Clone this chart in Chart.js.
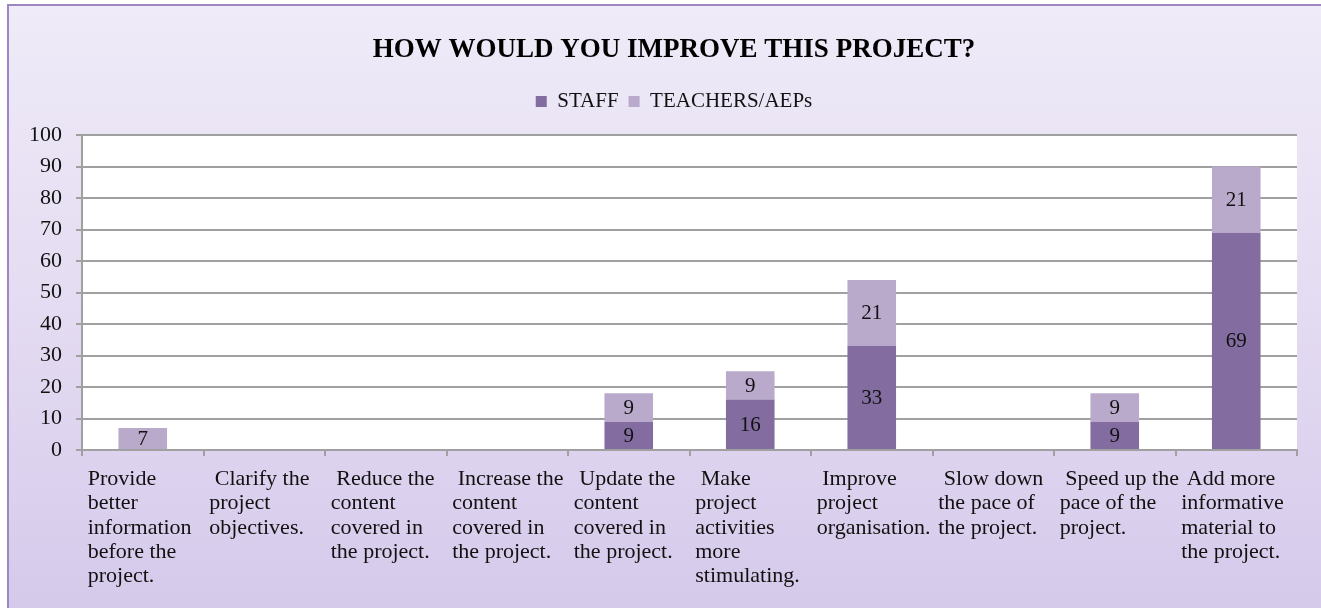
<!DOCTYPE html>
<html>
<head>
<meta charset="utf-8">
<script src="https://cdn.jsdelivr.net/npm/chart.js@4.4.1/dist/chart.umd.min.js"></script>
<style>
  html, body { margin: 0; padding: 0; width: 1321px; height: 608px; overflow: hidden; background: #ffffff; }
  #frame {
    position: absolute; left: 7px; top: 4px;
    width: 1330px; height: 640px;
    border-left: 2px solid #9c86c4; border-top: 2px solid #9c86c4;
    background: linear-gradient(to bottom, #efebf8 0px, #e4dcf2 300px, #d4c7ea 640px);
  }
  canvas { display: block; }
</style>
</head>
<body>
<div id="frame"><canvas id="c" width="1330" height="604" style="width:1330px;height:604px"></canvas></div>
<script>
const chartTitle = 'HOW WOULD YOU IMPROVE THIS PROJECT?';
const seriesNames = ['STAFF', 'TEACHERS/AEPs'];
const categories = [
  ['Provide', 'better', 'information', 'before the', 'project.'],
  [' Clarify the', 'project', 'objectives.'],
  [' Reduce the', 'content', 'covered in', 'the project.'],
  [' Increase the', 'content', 'covered in', 'the project.'],
  [' Update the', 'content', 'covered in', 'the project.'],
  [' Make', 'project', 'activities', 'more', 'stimulating.'],
  [' Improve', 'project', 'organisation.'],
  [' Slow down', 'the pace of', 'the project.'],
  [' Speed up the', 'pace of the', 'project.'],
  [' Add more', 'informative', 'material to', 'the project.']
];
const staffValues    = [0, 0, 0, 0, 9, 16, 33, 0, 9, 69];
const teacherValues  = [7, 0, 0, 0, 9, 9, 21, 0, 9, 21];
const yTicks = { min: 0, max: 100, step: 10 };

const FONT = "'Liberation Serif', 'Times New Roman', serif";
const GRID = '#a0a0a0';

const plotBg = {
  id: 'plotBg',
  beforeDraw(chart) {
    const a = chart.chartArea, ctx = chart.ctx;
    ctx.save();
    ctx.fillStyle = '#ffffff';
    ctx.fillRect(a.left, a.top, a.right - a.left, a.bottom - a.top);
    ctx.restore();
  }
};

const barLabels = {
  id: 'barLabels',
  afterDatasetsDraw(chart) {
    const ctx = chart.ctx;
    ctx.save();
    ctx.font = '21px ' + FONT;
    ctx.fillStyle = '#111111';
    ctx.textAlign = 'center';
    ctx.textBaseline = 'middle';
    chart.data.datasets.forEach((ds, di) => {
      const meta = chart.getDatasetMeta(di);
      meta.data.forEach((el, i) => {
        const v = ds.data[i];
        if (!v) return;
        ctx.fillText(String(v), el.x, (el.y + el.base) / 2 + 1);
      });
    });
    ctx.restore();
  }
};

new Chart(document.getElementById('c'), {
  type: 'bar',
  data: {
    labels: categories,
    datasets: [
      { label: seriesNames[0], data: staffValues, backgroundColor: '#836c9f', borderWidth: 0, barPercentage: 0.4, categoryPercentage: 1.0, stack: 's' },
      { label: seriesNames[1], data: teacherValues, backgroundColor: '#b9a9cb', borderWidth: 0, barPercentage: 0.4, categoryPercentage: 1.0, stack: 's' }
    ]
  },
  options: {
    responsive: false,
    animation: false,
    layout: { padding: 0 },
    plugins: {
      title: {
        display: true,
        text: chartTitle,
        color: '#000000',
        font: { family: FONT, size: 27, weight: 'bold', lineHeight: 1.2 },
        padding: { top: 28.3, bottom: 14.3 }
      },
      legend: {
        display: true,
        position: 'top',
        labels: {
          color: '#111111',
          font: { family: FONT, size: 21 },
          boxWidth: 11, boxHeight: 11,
          padding: 10
        }
      },
      subtitle: {
        display: true,
        text: '',
        weight: 500,
        font: { size: 10, lineHeight: 1.2 },
        padding: { top: 1, bottom: 0 }
      },
      tooltip: { enabled: false }
    },
    scales: {
      x: {
        stacked: true,
        grid: { display: true, drawOnChartArea: false, drawTicks: true, tickLength: 6, color: GRID, lineWidth: 2, offset: true },
        border: { display: true, color: GRID, width: 2 },
        ticks: {
          color: '#111111',
          font: { family: FONT, size: 22, lineHeight: 1.1 },
          autoSkip: false, maxRotation: 0, minRotation: 0,
          align: 'start',
          labelOffset: -55,
          padding: 11.4
        },
        afterFit(s) { s.height = 160; s.paddingLeft = 0; s.paddingRight = 0; }
      },
      y: {
        stacked: true,
        min: yTicks.min, max: yTicks.max,
        grid: { color: GRID, lineWidth: 2, tickLength: 6, drawTicks: true },
        border: { display: true, color: GRID, width: 2 },
        ticks: {
          stepSize: yTicks.step,
          color: '#111111',
          font: { family: FONT, size: 22 },
          padding: 14
        },
        afterFit(s) { s.width = 73; }
      },
      y2: {
        position: 'right',
        display: true,
        grid: { display: false, drawTicks: false },
        border: { display: false },
        ticks: { display: false },
        afterFit(s) { s.width = 42; }
      }
    }
  },
  plugins: [plotBg, barLabels]
});
</script>
</body>
</html>
